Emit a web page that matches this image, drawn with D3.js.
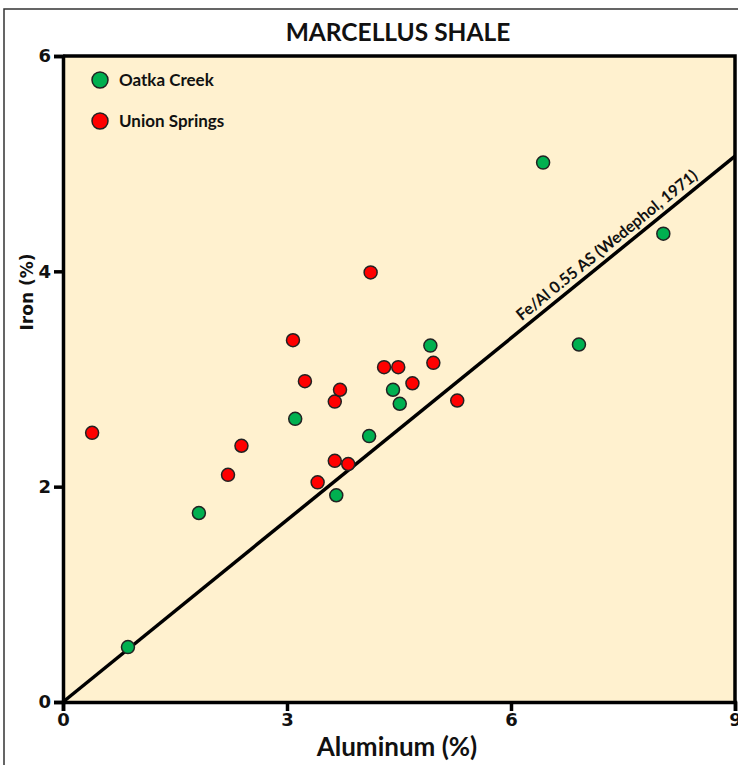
<!DOCTYPE html>
<html><head><meta charset="utf-8">
<script src="https://cdn.jsdelivr.net/npm/d3@7"></script>
<style>body{margin:0;background:#fff}svg{display:block}text{font-family:Lato,"Open Sans",sans-serif;font-weight:700;fill:#111}</style>
</head><body><svg id="c" width="738" height="765"></svg>
<script>
const oatkaAl = [0.87, 1.82, 3.11, 3.66, 4.10, 4.42, 4.51, 4.92, 6.43, 6.91, 8.04];
const oatkaFe = [0.51, 1.755, 2.63, 1.92, 2.47, 2.90, 2.77, 3.31, 5.01, 3.32, 4.35];
const unionAl = [0.39, 2.21, 2.39, 3.08, 3.24, 3.64, 3.71, 3.64, 3.82, 3.41, 4.12, 4.30, 4.49, 4.68, 4.96, 5.28];
const unionFe = [2.50, 2.11, 2.38, 3.36, 2.98, 2.79, 2.90, 2.24, 2.21, 2.04, 3.99, 3.11, 3.11, 2.96, 3.15, 2.80];
const refLineAl = [0, 9];
const refLineFe = [0, 5.07];
const xTicks = [0, 3, 6, 9];
const yTicks = [0, 2, 4, 6];
const seriesNames = ["Oatka Creek", "Union Springs"];
const seriesColors = ["#00B050", "#FF0000"];

const svg = d3.select("#c");
const L = 63, R = 735, T = 56, B = 702;
const x = d3.scaleLinear().domain([0, 9]).range([L, R]);
const y = d3.scaleLinear().domain([0, 6]).range([B, T]);

// outer border
svg.append("path").attr("d", `M4,765 V9 H738`).attr("fill", "none").attr("stroke", "#333").attr("stroke-width", 1.5);

// plot background
svg.append("rect").attr("x", L).attr("y", T).attr("width", R - L).attr("height", B - T).attr("fill", "#FFF1CF");

// reference line
svg.append("line")
  .attr("x1", x(refLineAl[0])).attr("y1", y(refLineFe[0]))
  .attr("x2", x(refLineAl[1])).attr("y2", y(refLineFe[1]))
  .attr("stroke", "#000").attr("stroke-width", 3.5);
const ang = Math.atan2(y(refLineFe[0]) - y(refLineFe[1]), x(refLineAl[1]) - x(refLineAl[0])) * 180 / Math.PI;
const lx = 7.33, lyv = refLineFe[1] * lx / refLineAl[1];
svg.append("text")
  .attr("transform", `translate(${x(lx)},${y(lyv) - 8}) rotate(${-ang})`)
  .attr("text-anchor", "middle").attr("font-size", 16)
  .text("Fe/Al 0.55 AS (Wedephol, 1971)");

// points
function drawPts(al, fe, col) {
  svg.append("g").selectAll("circle").data(al.map((a, i) => [a, fe[i]])).join("circle")
    .attr("cx", d => x(d[0])).attr("cy", d => y(d[1])).attr("r", 6.5)
    .attr("fill", col).attr("stroke", "#222").attr("stroke-width", 1.5);
}
drawPts(oatkaAl, oatkaFe, seriesColors[0]);
drawPts(unionAl, unionFe, seriesColors[1]);

// frame top/right
svg.append("path").attr("d", `M${L},${T} H${R} V${B}`).attr("fill", "none").attr("stroke", "#000").attr("stroke-width", 3.5);

// axes
const xAxis = svg.append("g").attr("transform", `translate(0,${B})`)
  .call(d3.axisBottom(x).tickValues(xTicks).tickSize(9).tickPadding(2).tickFormat(d3.format("d")));
const yAxis = svg.append("g").attr("transform", `translate(${L},0)`)
  .call(d3.axisLeft(y).tickValues(yTicks).tickSize(9).tickPadding(3).tickFormat(d3.format("d")));
[xAxis, yAxis].forEach(g => {
  g.select(".domain").attr("stroke", "#000").attr("stroke-width", 3.5);
  g.selectAll(".tick line").attr("stroke", "#000").attr("stroke-width", 3.5);
  g.selectAll(".tick text").attr("font-size", 18).attr("fill", "#111").style("font-family", "'DejaVu Sans',sans-serif").style("font-weight", 700);
});

// legend
seriesNames.forEach((n, i) => {
  const cy = 80 + i * 41;
  svg.append("circle").attr("cx", 100).attr("cy", cy).attr("r", 8).attr("fill", seriesColors[i]).attr("stroke", "#222").attr("stroke-width", 1.5);
  svg.append("text").attr("x", 119).attr("y", cy + 6).attr("font-size", 17).text(n);
});

// titles
svg.append("text").attr("x", 398).attr("y", 41).attr("text-anchor", "middle").attr("font-size", 24.5).text("MARCELLUS SHALE");
svg.append("text").attr("x", 397).attr("y", 756).attr("text-anchor", "middle").attr("font-size", 26).text("Aluminum (%)");
svg.append("text").attr("transform", "translate(33,292) rotate(-90)").attr("text-anchor", "middle")
  .attr("font-size", 17).style("font-family", "'DejaVu Sans',sans-serif").text("Iron (%)");
</script></body></html>
